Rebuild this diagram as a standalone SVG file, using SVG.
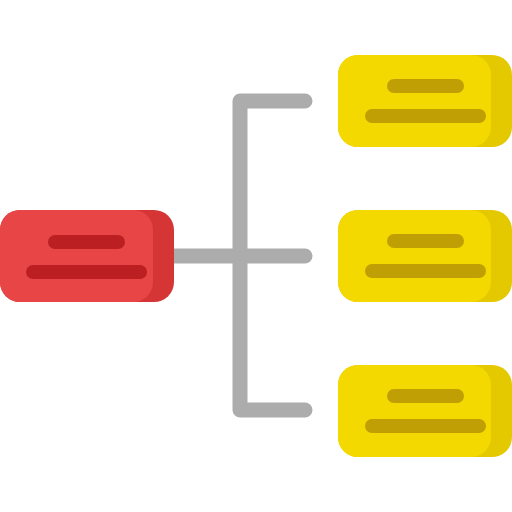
<svg xmlns="http://www.w3.org/2000/svg" width="512" height="512" viewBox="0 0 512 512">
<style>
.conn{fill:none;stroke:#acacac;stroke-width:15;stroke-linecap:round;stroke-linejoin:round}
.rd{fill:#d63536}.rl{fill:#e84547}.rb{stroke:#bb1f21;stroke-width:14;stroke-linecap:round}
.yd{fill:#e4c800}.yl{fill:#f3d900}.yb{stroke:#bf9f03;stroke-width:14;stroke-linecap:round}
</style>
<g id="connectors">
<path class="conn" d="M305 101 H240 V410 H305"/>
<path class="conn" d="M170 256 H305"/>
</g>
<g id="root">
<rect class="rd" x="0" y="210" width="174" height="92" rx="20"/>
<rect class="rl" x="0" y="210" width="153" height="92" rx="20"/>
<line class="rb" x1="55" y1="242" x2="118" y2="242"/>
<line class="rb" x1="33" y1="272" x2="140" y2="272"/>
</g>
<g id="child1">
<rect class="yd" x="338" y="55" width="174" height="92" rx="20"/>
<rect class="yl" x="338" y="55" width="153" height="92" rx="20"/>
<line class="yb" x1="394" y1="86" x2="457" y2="86"/>
<line class="yb" x1="372" y1="116" x2="479" y2="116"/>
</g>
<g id="child2">
<rect class="yd" x="338" y="210" width="174" height="92" rx="20"/>
<rect class="yl" x="338" y="210" width="153" height="92" rx="20"/>
<line class="yb" x1="394" y1="241" x2="457" y2="241"/>
<line class="yb" x1="372" y1="271" x2="479" y2="271"/>
</g>
<g id="child3">
<rect class="yd" x="338" y="365" width="174" height="92" rx="20"/>
<rect class="yl" x="338" y="365" width="153" height="92" rx="20"/>
<line class="yb" x1="394" y1="396" x2="457" y2="396"/>
<line class="yb" x1="372" y1="426" x2="479" y2="426"/>
</g>
</svg>
